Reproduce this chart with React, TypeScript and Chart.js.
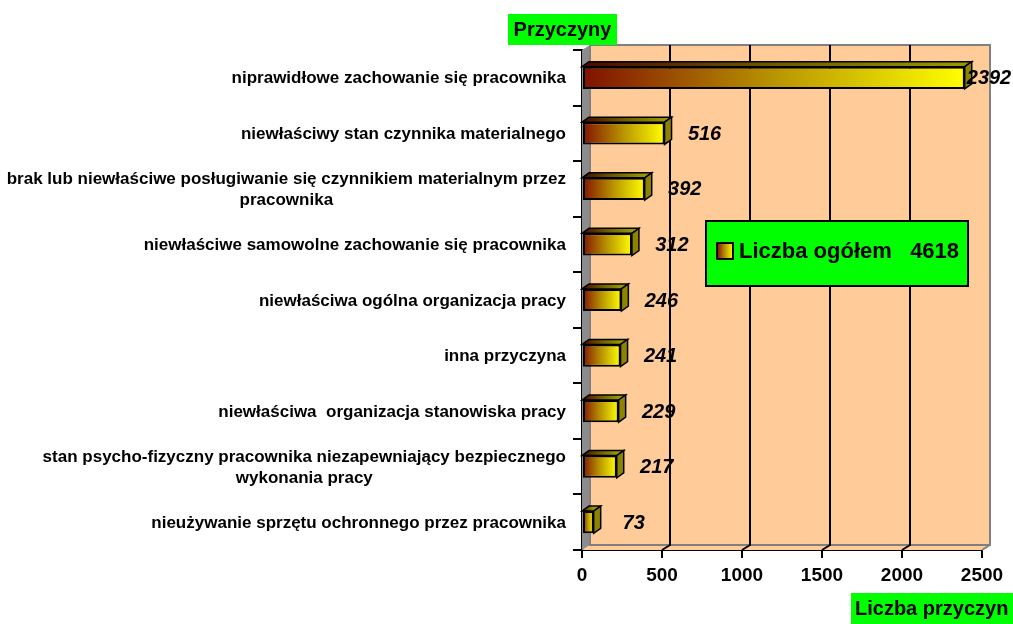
import React, { useEffect, useRef } from "react";
import { Chart, registerables } from "chart.js";

Chart.register(...registerables);

const categories: string[][] = [
  ["niprawidłowe zachowanie się pracownika"],
  ["niewłaściwy stan czynnika materialnego"],
  ["brak lub niewłaściwe posługiwanie się czynnikiem materialnym przez", "pracownika"],
  ["niewłaściwe samowolne zachowanie się pracownika"],
  ["niewłaściwa ogólna organizacja pracy"],
  ["inna przyczyna"],
  ["niewłaściwa  organizacja stanowiska pracy"],
  ["stan psycho-fizyczny pracownika niezapewniający bezpiecznego", "wykonania pracy"],
  ["nieużywanie sprzętu ochronnego przez pracownika"],
];
const values: number[] = [2392, 516, 392, 312, 246, 241, 229, 217, 73];
const xTicks: number[] = [0, 500, 1000, 1500, 2000, 2500];
const seriesName = "Liczba ogółem";
const total = values.reduce((a, b) => a + b, 0);
const yTitle = "Przyczyny";
const xTitle = "Liczba przyczyn";

const FONT = "'Liberation Sans', Arial, sans-serif";
const PEACH = "#FFCC99";
const GREEN = "#00FF00";

function ok(...n: number[]) {
  return n.every((v) => Number.isFinite(v));
}

function frontGradient(ctx: CanvasRenderingContext2D, x0: number, x1: number) {
  if (!ok(x0, x1)) return "#cccc00";
  const g = ctx.createLinearGradient(x0, 0, Math.max(x1, x0 + 1), 0);
  g.addColorStop(0, "#801000");
  g.addColorStop(0.5, "#B89400");
  g.addColorStop(1, "#FFFF00");
  return g;
}
function topGradient(ctx: CanvasRenderingContext2D, x0: number, x1: number) {
  if (!ok(x0, x1)) return "#808000";
  const g = ctx.createLinearGradient(x0, 0, Math.max(x1, x0 + 1), 0);
  g.addColorStop(0, "#4a0800");
  g.addColorStop(0.5, "#6e5a00");
  g.addColorStop(1, "#999900");
  return g;
}

const DX = 8;
const DY = -5;

const threeDPlugin = {
  id: "threeD",
  beforeDatasetsDraw(chart: any) {
    const ctx: CanvasRenderingContext2D = chart.ctx;
    const { left, top, right, bottom } = chart.chartArea;
    const xs = chart.scales.x;
    ctx.save();
    ctx.fillStyle = PEACH;
    ctx.fillRect(left + DX, top + DY, right - left, bottom - top);
    ctx.beginPath();
    ctx.moveTo(left, bottom);
    ctx.lineTo(left + DX, bottom + DY);
    ctx.lineTo(right + DX, bottom + DY);
    ctx.lineTo(right, bottom);
    ctx.closePath();
    ctx.fill();
    ctx.fillStyle = "#8c8c8c";
    ctx.beginPath();
    ctx.moveTo(left, top);
    ctx.lineTo(left + DX, top + DY);
    ctx.lineTo(left + DX, bottom + DY);
    ctx.lineTo(left, bottom);
    ctx.closePath();
    ctx.fill();
    ctx.strokeStyle = "#808080";
    ctx.lineWidth = 2;
    ctx.strokeRect(left + DX, top + DY, right - left, bottom - top);
    ctx.beginPath();
    ctx.moveTo(right + DX, bottom + DY);
    ctx.lineTo(right, bottom);
    ctx.stroke();
    ctx.strokeStyle = "#000";
    ctx.lineWidth = 2;
    for (const v of xTicks) {
      if (v === xTicks[0] || v === xTicks[xTicks.length - 1]) continue;
      const px = xs.getPixelForValue(v);
      ctx.beginPath();
      ctx.moveTo(px + DX, top + DY);
      ctx.lineTo(px + DX, bottom + DY);
      ctx.lineTo(px, bottom);
      ctx.stroke();
    }
    ctx.restore();
  },
  afterDatasetsDraw(chart: any) {
    const ctx: CanvasRenderingContext2D = chart.ctx;
    const meta = chart.getDatasetMeta(0);
    const xs = chart.scales.x;
    const ys = chart.scales.y;
    const x0 = xs.getPixelForValue(0);
    ctx.save();
    meta.data.forEach((el: any) => {
      const { x, y, height } = el.getProps(["x", "y", "height"], true);
      const t = y - height / 2;
      const b = y + height / 2;
      const dx = 7;
      const dy = -5;
      ctx.beginPath();
      ctx.moveTo(x0, t);
      ctx.lineTo(x0 + dx, t + dy);
      ctx.lineTo(x + dx, t + dy);
      ctx.lineTo(x, t);
      ctx.closePath();
      ctx.fillStyle = topGradient(ctx, x0, x);
      ctx.fill();
      ctx.strokeStyle = "#000";
      ctx.lineWidth = 1.5;
      ctx.stroke();
      ctx.beginPath();
      ctx.moveTo(x, t);
      ctx.lineTo(x + dx, t + dy);
      ctx.lineTo(x + dx, b + dy);
      ctx.lineTo(x, b);
      ctx.closePath();
      ctx.fillStyle = "#8c8400";
      ctx.fill();
      ctx.stroke();
    });
    ctx.fillStyle = "#000";
    ctx.font = `italic bold 20px ${FONT}`;
    ctx.textAlign = "center";
    ctx.textBaseline = "middle";
    meta.data.forEach((el: any, i: number) => {
      const { x, y } = el.getProps(["x", "y"], true);
      const cx = Math.min(x + 40, chart.width - 24);
      ctx.fillText(String(values[i]), cx, y + 1);
    });
    ctx.font = `bold 17px ${FONT}`;
    const labelRight = ys.right - 16;
    categories.forEach((lines, i) => {
      const cy = ys.getPixelForValue(i);
      const widths = lines.map((l) => ctx.measureText(l).width);
      const maxW = Math.max(...widths);
      const cx = labelRight - maxW / 2;
      const lh = 21;
      const startY = cy - ((lines.length - 1) * lh) / 2;
      ctx.textAlign = "center";
      lines.forEach((l, k) => ctx.fillText(l, cx, startY + k * lh + 1));
    });
    ctx.restore();
  },
  afterDraw(chart: any) {
    const ctx: CanvasRenderingContext2D = chart.ctx;
    ctx.save();
    ctx.fillStyle = GREEN;
    ctx.fillRect(508, 14, 109, 31);
    ctx.fillStyle = "#000";
    ctx.font = `bold 20px ${FONT}`;
    ctx.textAlign = "center";
    ctx.textBaseline = "middle";
    ctx.fillText(yTitle, 562.5, 30);
    ctx.fillStyle = GREEN;
    ctx.fillRect(851, 593, 162, 31);
    ctx.fillStyle = "#000";
    ctx.textAlign = "left";
    ctx.fillText(xTitle, 855, 609);
    ctx.fillStyle = GREEN;
    ctx.fillRect(706, 221, 262, 65);
    ctx.strokeStyle = "#000";
    ctx.lineWidth = 2;
    ctx.strokeRect(706, 221, 262, 65);
    ctx.fillStyle = frontGradient(ctx, 717, 733);
    ctx.fillRect(717, 243, 16, 16);
    ctx.strokeRect(717, 243, 16, 16);
    ctx.fillStyle = "#000";
    ctx.font = `bold 22px ${FONT}`;
    ctx.textAlign = "left";
    ctx.fillText(`${seriesName}   ${total}`, 739, 252);
    ctx.restore();
  },
};

export default function App() {
  const ref = useRef<HTMLCanvasElement | null>(null);
  useEffect(() => {
    if (!ref.current) return;
    const chart = new Chart(ref.current, {
      type: "bar",
      data: {
        labels: categories as any,
        datasets: [
          {
            label: seriesName,
            data: values,
            backgroundColor: (c: any) => {
              const xs = c.chart.scales?.x;
              if (!xs || c.type !== "data") return "#cccc00";
              const x0 = xs.getPixelForValue(0);
              const x1 = xs.getPixelForValue(c.raw);
              return frontGradient(c.chart.ctx, x0, x1);
            },
            borderColor: "#000",
            borderWidth: 2,
            borderSkipped: false,
            categoryPercentage: 1,
            barPercentage: 0.4,
          },
        ],
      },
      options: {
        indexAxis: "y",
        responsive: false,
        animation: false,
        layout: { padding: { top: 50, right: 31, bottom: 0, left: 0 } },
        plugins: { legend: { display: false }, tooltip: { enabled: false } },
        scales: {
          x: {
            type: "linear",
            min: 0,
            max: 2500,
            afterBuildTicks: (s: any) => {
              s.ticks = xTicks.map((v) => ({ value: v }));
            },
            afterFit: (s: any) => {
              s.height = 74;
            },
            ticks: {
              font: { family: FONT, size: 19, weight: "bold" },
              color: "#000",
              padding: 6,
              maxRotation: 0,
              callback: (v: any) => String(v),
            },
            grid: {
              display: true,
              drawOnChartArea: false,
              drawTicks: true,
              tickLength: 8,
              color: "#000",
              lineWidth: 2,
            },
            border: { display: true, color: "#000", width: 2 },
          },
          y: {
            type: "category",
            afterFit: (s: any) => {
              s.width = 582;
            },
            ticks: { display: false },
            grid: {
              display: true,
              drawOnChartArea: false,
              drawTicks: true,
              tickLength: 9,
              color: "#000",
              lineWidth: 2,
              offset: true,
            },
            border: { display: true, color: "#000", width: 2 },
          },
        },
      } as any,
      plugins: [threeDPlugin],
    });
    return () => chart.destroy();
  }, []);
  return (
    <div style={{ position: "absolute", left: 0, top: 0, width: 1013, height: 624, background: "#fff" }}>
      <canvas ref={ref} width={1013} height={624} />
    </div>
  );
}
